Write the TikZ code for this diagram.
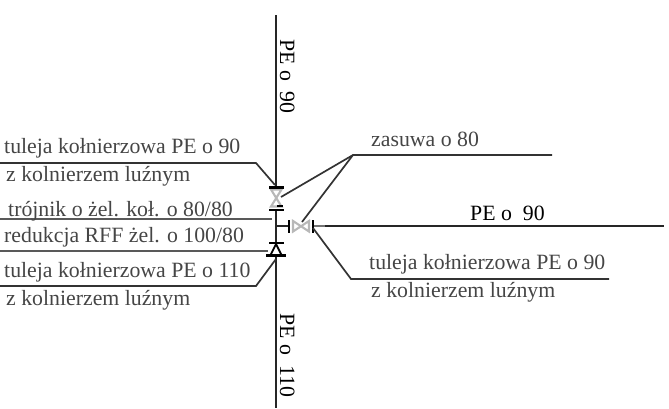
\documentclass[tikz,border=0pt]{standalone}
\usepackage{fontspec}
\setmainfont{Liberation Serif}
\definecolor{txt}{gray}{0.27}
\definecolor{vg}{gray}{0.72}
\tikzset{
  lbl/.style={inner sep=0pt,anchor=base west,text=txt,font=\fontsize{21.8}{23}\selectfont},
  lblb/.style={lbl,text=black},
  pipe/.style={draw=black!85,line width=1.8pt},
  lead/.style={draw=black!80,line width=1.7pt},
  leadg/.style={draw=black!65,line width=1.7pt},
  flange/.style={draw=black,line width=2.2pt},
  valve/.style={draw=vg,line width=2.1pt}
}
\begin{document}
\begin{tikzpicture}[x=1pt,y=-1pt]
\useasboundingbox (0,0) rectangle (669,408);
% named points
\coordinate (top) at (276,15);
\coordinate (bot) at (276,408);
\coordinate (fa) at (276,187);
\coordinate (fb) at (276,210);
\coordinate (tee) at (276,226);
\coordinate (fc) at (276,243);
\coordinate (fd) at (276,255);
\coordinate (hf) at (289,226);
\coordinate (hg) at (313,226);
\coordinate (hend) at (664,226);
\coordinate (za) at (353,155);
\coordinate (zb) at (552,155);
\coordinate (ra) at (351,279);
\coordinate (rb) at (609,279);
% pipes
\draw[pipe] (top) -- (fa);
\draw[pipe,line width=2.2pt] (fb) -- (fc);
\draw[pipe] (fd) -- (bot);
\draw[pipe,line width=2.2pt] (tee) -- (hf);
\draw[pipe] (325,226) -- (hend);
\draw[pipe,draw=black!55] (hg) -- (325,226);
% valves
\draw[valve] (271,189.5) -- (281.5,189.5) -- (271,206.5) -- (281.5,206.5) -- cycle;
\draw[valve] (293,221) -- (293,231.5) -- (309,221) -- (309,231.5) -- cycle;
% flanges
\draw[flange] (269,187.5) -- (284,187.5);
\draw[flange] (269,210) -- (284,210);
\draw[flange,line width=1.6pt] (277,206) -- (283,206);
\draw[flange] (269,243) -- (284,243);
\draw[flange,line width=3pt] (266,255) -- (286,255);
\draw[flange] (289,220) -- (289,233);
\draw[flange] (313,220) -- (313,232.5);
\draw[flange,line width=1.8pt] (276,244) -- (270.5,255) -- (281.5,255) -- cycle;
% leaders
\draw[lead] (0,163) -- (256,163) -- (275,185);
\draw[leadg] (0,219) -- (272,219);
\draw[leadg] (0,251) -- (268,251);
\draw[lead] (0,286) -- (256,286) -- (276,259);
\draw[lead] (zb) -- (za) -- (281,197);
\draw[lead] (za) -- (302,222);
\draw[lead] (rb) -- (ra) -- (313,228);
% labels
\node[lbl] (t1) at (4,153) {tuleja kołnierzowa PE o 90};
\node[lbl] (t2) at (6,181) {z kolnierzem luźnym};
\node[lbl] (t3) at (8,216) {trójnik o żel. koł. o 80/80};
\node[lbl] (t4) at (4,242) {redukcja RFF żel. o 100/80};
\node[lbl] (t5) at (4,277) {tuleja kołnierzowa PE o 110};
\node[lbl] (t6) at (6,305) {z kolnierzem luźnym};
\node[lbl] (t7) at (371,146) {zasuwa o 80};
\node[lblb] (t8) at (470,220) {PE o\ \ 90};
\node[lbl] (t9) at (369,269) {tuleja kołnierzowa PE o 90};
\node[lbl] (t10) at (371,297) {z kolnierzem luźnym};
\node[lblb,rotate=-90] (t11) at (280,39) {PE o\ \ 90};
\node[lblb,rotate=-90] (t12) at (280,313) {PE o\ \ 110};
\end{tikzpicture}
\end{document}
